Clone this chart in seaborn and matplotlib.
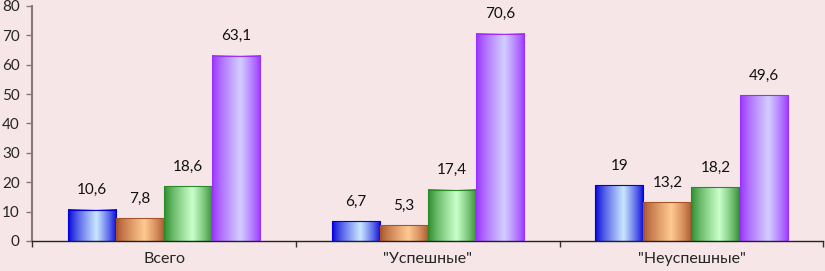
import numpy as np
import pandas as pd
import matplotlib
matplotlib.use("Agg")
import matplotlib.pyplot as plt
from matplotlib.colors import LinearSegmentedColormap
import seaborn as sns

# chart values
categories = ['Всего', '"Успешные"', '"Неуспешные"']
series = ['Ряд 1', 'Ряд 2', 'Ряд 3', 'Ряд 4']
s1 = [10.6, 6.7, 19]
s2 = [7.8, 5.3, 13.2]
s3 = [18.6, 17.4, 18.2]
s4 = [63.1, 70.6, 49.6]
yticks = [0, 10, 20, 30, 40, 50, 60, 70, 80]

df = pd.DataFrame({
    'cat': categories * 4,
    'series': [s for s in series for _ in categories],
    'val': s1 + s2 + s3 + s4,
})

# (edge colour, highlight colour) for cylinder-like shading
shades = [
    ('#0000d8', '#c8e4ff'),
    ('#a8522a', '#ffc890'),
    ('#2a8a2a', '#c8ffc8'),
    ('#9a30ff', '#d2ccff'),
]

bg = '#f6e6e8'
sns.set_style("white")
plt.rcParams['font.family'] = ['Lato', 'DejaVu Sans']

fig = plt.figure(figsize=(8.25, 2.71), dpi=100, facecolor=bg)
ax = fig.add_axes([0.039, 0.111, 0.959, 0.867])
ax.set_facecolor(bg)

sns.barplot(data=df, x='cat', y='val', hue='series', order=categories,
            hue_order=series, width=0.73, palette=[c[0] for c in shades],
            legend=False, ax=ax, saturation=1)

grad = np.concatenate([np.linspace(0, 1, 58) ** 0.8,
                       np.linspace(1, 0, 42) ** 0.8])[None, :]

for cont, (dark, light) in zip(ax.containers, shades):
    cmap = LinearSegmentedColormap.from_list('c', [dark, light])
    for bar in cont:
        x, w, h = bar.get_x(), bar.get_width(), bar.get_height()
        ax.imshow(grad, cmap=cmap, extent=[x, x + w, 0, h], aspect='auto',
                  zorder=2, interpolation='bilinear')
        bar.set_facecolor('none')
        bar.set_edgecolor(dark)
        bar.set_linewidth(0.8)
        bar.set_zorder(3)
    labels = [f"{v:g}".replace('.', ',') for v in cont.datavalues]
    ax.bar_label(cont, labels=labels, padding=9, fontsize=11, color='#111111')

ax.set_xlim(-0.5, 2.5)
ax.set_ylim(0, 80)
ax.set_yticks(yticks)
ax.set_xlabel('')
ax.set_ylabel('')

ax.set_xticks([0, 1, 2])
ax.set_xticklabels(categories)
ax.set_xticks([-0.5, 0.5, 1.5, 2.5], minor=True)
ax.tick_params(axis='x', which='major', length=0, pad=8, labelsize=11.5)
ax.tick_params(axis='x', which='minor', length=4, width=1, color='#333333',
               bottom=True)
ax.tick_params(axis='y', length=4, width=1, color='#8a7878', pad=5,
               labelsize=11, left=True)

for side in ['top', 'right']:
    ax.spines[side].set_visible(False)
ax.spines['left'].set_color('#8a7878')
ax.spines['left'].set_linewidth(1.5)
ax.spines['bottom'].set_color('#222222')
ax.spines['bottom'].set_linewidth(1)

fig.savefig('out.png', dpi=100, facecolor=bg)
